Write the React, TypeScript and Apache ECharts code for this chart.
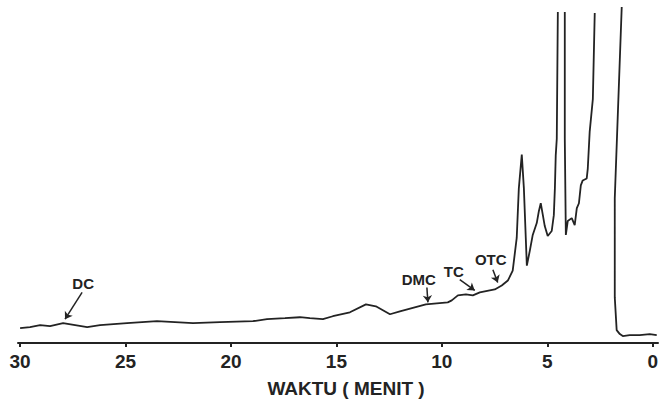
import React, { useEffect, useRef } from "react";
import * as echarts from "echarts";

// retention time (minutes) and detector signal (arbitrary units)
const times = [
  30.0, 29.53, 29.05, 28.58, 27.96, 27.39, 26.82, 26.21, 24.93, 23.51, 21.8, 20.52,
  18.96, 18.29, 17.44, 16.73, 16.26, 15.64, 15.17, 14.36, 13.6, 13.13, 12.46, 11.99,
  10.76, 9.72, 9.53, 9.24, 8.86, 8.53, 8.2, 7.73, 7.49, 7.16, 6.87, 6.64, 6.45, 6.35,
  6.21, 6.11, 6.02, 5.97, 5.83, 5.69, 5.5, 5.4, 5.31, 5.21, 5.12, 4.98, 4.79, 4.69,
  4.64, 4.6, 4.55, 4.5, 4.33, 4.17, 4.17, 4.12, 4.03, 3.84, 3.7, 3.6, 3.5, 3.41, 3.32,
  3.13, 3.08, 2.99, 2.84, 2.75, 2.1, 1.47, 1.8, 1.8, 1.71, 1.56, 1.42, 1.09, 0.62, 0.14,
  -0.19,
];
const signal: (number | null)[] = [
  15, 16, 18, 17, 20, 18, 16, 18, 20, 22, 20, 21,
  22, 24, 25, 26, 25, 24, 27, 31, 39, 37, 29, 32,
  39, 41, 43, 48, 49, 48, 51, 53, 54, 58, 63, 73, 106, 156,
  190, 156, 106, 78, 93, 109, 121, 133, 141, 129, 118, 108, 113, 129,
  156, 189, 206, 334, null, 334, 206, 109, 123, 126, 119, 136, 141, 159, 164,
  166, 176, 213, 246, 333, null, 339, 146, 46, 13, 9, 7, 8, 8, 9,
  8,
];

const tickValues = [0, 5, 10, 15, 20, 25, 30];

// peak annotations
const peakNames = ["DC", "DMC", "TC", "OTC"];
const peakLabelTime = [27.01, 11.09, 9.43, 7.68];
const peakLabelSignal = [60, 64, 72, 84];
const arrowStartTime = [27.06, 10.71, 9.15, 7.58];
const arrowStartSignal = [51, 56, 64, 74];
const arrowEndTime = [27.87, 10.66, 8.44, 7.35];
const arrowEndSignal = [24, 41, 53, 61];

const INK = "#232323";
const FONT = "'Liberation Sans', Arial, sans-serif";

export default function App() {
  const ref = useRef<HTMLDivElement>(null);

  useEffect(() => {
    if (!ref.current) return;
    const chart = echarts.init(ref.current, undefined, { renderer: "svg" });
    const data = times.map((t, i) => [t, signal[i] === null ? "-" : signal[i]]);

    chart.setOption({
      animation: false,
      backgroundColor: "#ffffff",
      grid: { left: 18, right: 8, top: 5, bottom: 57, containLabel: false },
      xAxis: {
        type: "value",
        inverse: true,
        min: -0.25,
        max: 30.1,
        name: "WAKTU ( MENIT )",
        nameLocation: "middle",
        nameGap: 36,
        nameTextStyle: {
          color: INK,
          fontFamily: FONT,
          fontSize: 19,
          fontWeight: "bold",
          padding: [0, 0, 0, 16],
        },
        splitLine: { show: false },
        axisLine: { show: true, lineStyle: { color: INK, width: 2 } },
        axisTick: {
          show: true,
          length: 4,
          inside: false,
          customValues: tickValues,
          lineStyle: { color: INK, width: 2 },
        },
        axisLabel: {
          show: true,
          customValues: tickValues,
          margin: 9,
          color: INK,
          fontFamily: FONT,
          fontSize: 19,
          fontWeight: "bold",
        },
      },
      yAxis: {
        type: "value",
        min: 0,
        max: 341,
        show: false,
        splitLine: { show: false },
      },
      series: [
        {
          type: "line",
          data,
          symbol: "none",
          showSymbol: false,
          connectNulls: false,
          clip: true,
          lineStyle: { color: INK, width: 1.8 },
          markLine: {
            silent: true,
            animation: false,
            symbol: ["none", "arrow"],
            symbolSize: 7,
            label: { show: false },
            lineStyle: { color: INK, width: 1.5, type: "solid" },
            emphasis: { disabled: true },
            data: peakNames.map((_, i) => [
              { coord: [arrowStartTime[i], arrowStartSignal[i]] },
              { coord: [arrowEndTime[i], arrowEndSignal[i]] },
            ]),
          },
          markPoint: {
            silent: true,
            animation: false,
            symbol: "circle",
            symbolSize: 1,
            itemStyle: { color: "rgba(0,0,0,0)" },
            label: {
              show: true,
              position: "inside",
              formatter: "{b}",
              color: INK,
              fontFamily: FONT,
              fontSize: 15,
              fontWeight: "bold",
            },
            data: peakNames.map((n, i) => ({
              name: n,
              coord: [peakLabelTime[i], peakLabelSignal[i]],
            })),
          },
        },
      ],
    });

    return () => chart.dispose();
  }, []);

  return (
    <div
      ref={ref}
      style={{ position: "absolute", left: 0, top: 0, width: 666, height: 403, background: "#fff" }}
    />
  );
}
